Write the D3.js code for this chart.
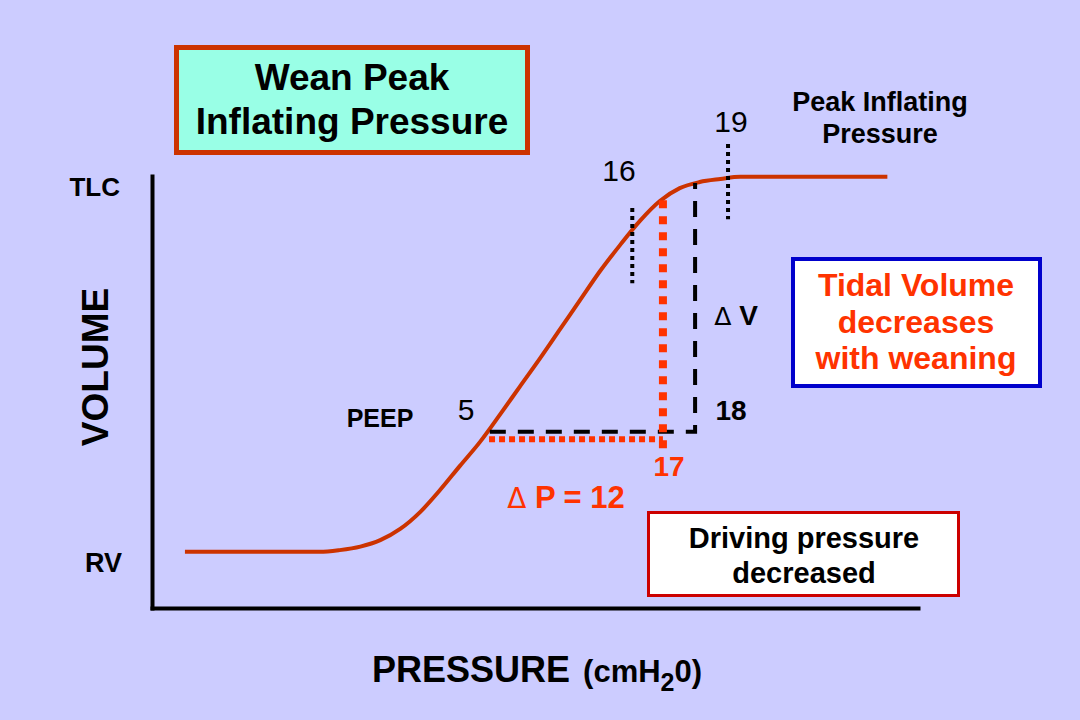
<!DOCTYPE html>
<html>
<head>
<meta charset="utf-8">
<script src="https://cdn.jsdelivr.net/npm/d3@7"></script>
<style>
  html, body { margin: 0; padding: 0; background: #ccccff; }
  svg { display: block; }
  text { font-family: "Liberation Sans", Arial, Helvetica, sans-serif; }
</style>
</head>
<body>
<svg id="chart" width="1080" height="720"></svg>
<script>
// ---- Data (abstract pressure/volume units, 0–100) ----
const curvePressure = [4.3, 21.9, 24.5, 27.2, 29.8, 32.4, 35.0, 37.6, 40.2, 42.8, 45.4, 48.0, 50.7, 53.3, 55.9, 58.5, 61.1, 63.7, 66.3, 68.9, 71.5, 74.2, 76.8, 96.0];
const curveVolume   = [13.0, 13.0, 13.4, 14.2, 15.7, 18.3, 22.2, 27.3, 32.9, 38.4, 44.7, 51.2, 57.9, 64.6, 71.3, 78.0, 84.0, 89.6, 94.2, 97.2, 98.6, 99.3, 99.8, 99.8];

// old setting (black dashed): PEEP point -> 18 -> up to the curve
const oldPressure = [44.1, 70.9, 70.9];
const oldVolume   = [40.8, 40.8, 98.4];
// weaned setting (red dotted): PEEP point -> 17 -> up to the curve
const newHPressure = [44.0, 66.7];
const newHVolume   = [39.05, 39.05];
const newVPressure = [66.7, 66.7];
const newVVolume   = [37.0, 94.4];
// black dotted markers at 16 and 19
const markPressure = [62.7, 75.2];
const markVolTop   = [92.6, 107.4];
const markVolBot   = [75.2, 90.0];

const axisLabels = { x: "PRESSURE", y: "VOLUME" };
const volumeLabels = ["TLC", "RV"];

// ---- Setup ----
const svg = d3.select("#chart");
svg.append("rect").attr("width", 1080).attr("height", 720).attr("fill", "#ccccff");

const x = d3.scaleLinear().domain([0, 100]).range([152, 918]);
const y = d3.scaleLinear().domain([0, 100]).range([608, 176]);

// axes (no ticks)
const gy = svg.append("g").attr("transform", `translate(${x(0)},0)`)
  .call(d3.axisLeft(y).tickValues([]).tickSizeOuter(0));
const gx = svg.append("g").attr("transform", `translate(0,${y(0)})`)
  .call(d3.axisBottom(x).tickValues([]).tickSizeOuter(0));
[gx, gy].forEach(g => g.select(".domain").attr("stroke", "#000").attr("stroke-width", 4).attr("stroke-linecap", "square"));

// compliance curve
svg.append("path")
  .datum(d3.zip(curvePressure, curveVolume))
  .attr("d", d3.line().x(d => x(d[0])).y(d => y(d[1])).curve(d3.curveMonotoneX))
  .attr("fill", "none").attr("stroke", "#cc3300").attr("stroke-width", 4);

const straight = d3.line().x(d => x(d[0])).y(d => y(d[1]));

// black dashed
svg.append("path").datum(d3.zip(oldPressure, oldVolume))
  .attr("d", straight).attr("fill", "none").attr("stroke", "#000")
  .attr("stroke-width", 4).attr("stroke-dasharray", "16,12");

// red dotted
svg.append("path").datum(d3.zip(newHPressure, newHVolume))
  .attr("d", straight).attr("fill", "none").attr("stroke", "#ff3300")
  .attr("stroke-width", 6).attr("stroke-dasharray", "6,4");
svg.append("path").datum(d3.zip(newVPressure, newVVolume))
  .attr("d", straight).attr("fill", "none").attr("stroke", "#ff3300")
  .attr("stroke-width", 8).attr("stroke-dasharray", "8,8");

// black dotted markers
markPressure.forEach((p, i) => {
  svg.append("line")
    .attr("x1", x(p)).attr("x2", x(p))
    .attr("y1", y(markVolTop[i])).attr("y2", y(markVolBot[i]))
    .attr("stroke", "#000").attr("stroke-width", 4).attr("stroke-dasharray", "4,4");
});

// ---- Text helpers ----
function txt(s, px, py, opts = {}) {
  return svg.append("text")
    .attr("x", px).attr("y", py)
    .attr("text-anchor", opts.anchor || "middle")
    .attr("font-size", opts.size || 24)
    .attr("font-weight", opts.bold === false ? "normal" : "bold")
    .attr("fill", opts.fill || "#000")
    .text(s);
}
function deltaTxt(rest, px, py, opts = {}) {
  const t = svg.append("text")
    .attr("x", px).attr("y", py)
    .attr("text-anchor", "middle")
    .attr("font-size", opts.size || 24)
    .attr("font-weight", "bold")
    .attr("fill", opts.fill || "#000");
  t.append("tspan").attr("font-weight", "normal").attr("font-family", "DejaVu Sans, sans-serif")
    .attr("font-size", (opts.size || 24) * 0.9).text("\u0394");
  t.append("tspan").text(" " + rest);
  return t;
}

// axis labels
txt(volumeLabels[0], 120, 196, { anchor: "end", size: 26 });
txt(volumeLabels[1], 122, 572, { anchor: "end", size: 27 });
svg.append("text")
  .attr("transform", "translate(108,367) rotate(-90)")
  .attr("text-anchor", "middle").attr("font-size", 37).attr("font-weight", "bold")
  .text(axisLabels.y);

const xl = svg.append("text").attr("x", 372).attr("y", 682)
  .attr("font-weight", "bold").attr("font-size", 36);
xl.append("tspan").text(axisLabels.x);
xl.append("tspan").attr("font-size", 31).attr("dx", 13).text("(cmH");
xl.append("tspan").attr("font-size", 25).attr("dy", 9).text("2");
xl.append("tspan").attr("font-size", 31).attr("dy", -9).text("0)");

// value annotations
txt("5", 466, 420, { bold: false, size: 30 });
txt("PEEP", 380, 427, { size: 25 });
txt("16", 619, 181, { bold: false, size: 30 });
txt("19", 731, 132, { bold: false, size: 30 });
txt("18", 731, 420, { size: 28 });
deltaTxt("V", 736, 325, { size: 28 });
txt("17", 669, 476, { size: 28, fill: "#ff3300" });
deltaTxt("P = 12", 566, 508, { size: 31, fill: "#ff3300" });
txt("Peak Inflating", 880, 111, { size: 27 });
txt("Pressure", 880, 143, { size: 27 });

// title box
svg.append("rect").attr("x", 176.5).attr("y", 47.5).attr("width", 351).attr("height", 105)
  .attr("fill", "#99ffe6").attr("stroke", "#cc3300").attr("stroke-width", 5);
txt("Wean Peak", 352, 90, { size: 37 });
txt("Inflating Pressure", 352, 134, { size: 37 });

// tidal volume box
svg.append("rect").attr("x", 793).attr("y", 259).attr("width", 247).attr("height", 127)
  .attr("fill", "#fff").attr("stroke", "#0000cc").attr("stroke-width", 4);
txt("Tidal Volume", 916, 296, { size: 32, fill: "#ff3300" });
txt("decreases", 916, 333, { size: 32, fill: "#ff3300" });
txt("with weaning", 916, 369, { size: 32, fill: "#ff3300" });

// driving pressure box
svg.append("rect").attr("x", 648.5).attr("y", 512.5).attr("width", 310).attr("height", 83)
  .attr("fill", "#fff").attr("stroke", "#cc0000").attr("stroke-width", 3);
txt("Driving pressure", 804, 548, { size: 29 });
txt("decreased", 804, 583, { size: 29 });
</script>
</body>
</html>
